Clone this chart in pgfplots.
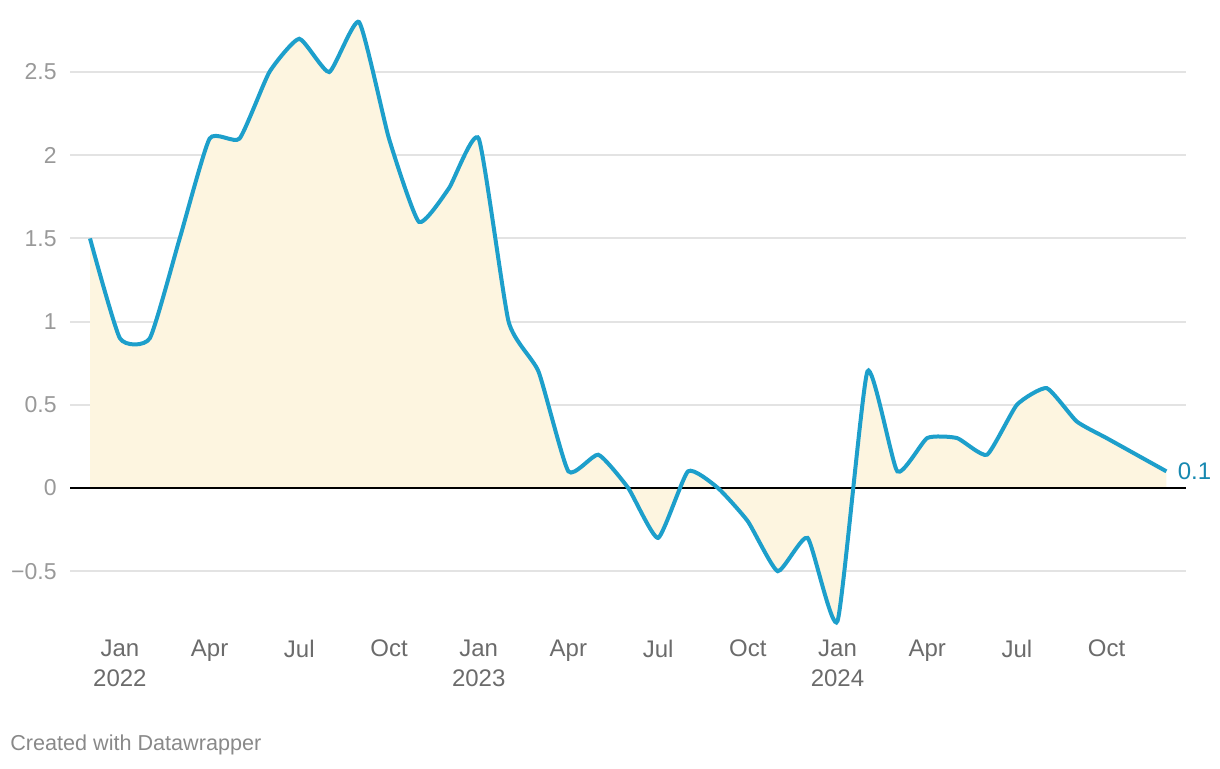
\documentclass[border=0pt]{standalone}
\usepackage{fontspec}
\setmainfont{Liberation Sans}
\usepackage{pgfplots}
\pgfplotsset{compat=1.18}
\definecolor{linec}{HTML}{1D9FCB}
\definecolor{fillc}{HTML}{FDF5E0}
\definecolor{gridc}{HTML}{E3E3E3}
\definecolor{ylab}{HTML}{999999}
\definecolor{xlab}{HTML}{6B6B6B}
\definecolor{endlab}{HTML}{1788B0}
\begin{document}
\begin{tikzpicture}
\path[use as bounding box] (0,0) rectangle (610pt,384pt);
\begin{axis}[
  at={(35pt,69.3pt)}, anchor=south west,
  scale only axis, width=558pt, height=307.8pt,
  xmin=-0.669, xmax=36.656, ymin=-0.85, ymax=2.85,
  axis line style={draw=none}, tick style={draw=none},
  ytick={-0.5,0,0.5,1,1.5,2,2.5},
  yticklabels={−0.5,0,0.5,1,1.5,2,2.5},
  ymajorgrids, grid style={gridc, line width=1pt},
  yticklabel style={anchor=east, inner sep=0pt, xshift=-6.5pt, font=\fontsize{11.5}{13}\selectfont, text=ylab},
  xtick={1,4,7,10,13,16,19,22,25,28,31,34},
  xticklabels={{Jan\\2022},Apr,Jul,Oct,{Jan\\2023},Apr,Jul,Oct,{Jan\\2024},Apr,Jul,Oct},
  xticklabel style={align=center, anchor=north, inner sep=0pt, yshift=-5pt, font=\fontsize{12}{15}\selectfont, text=xlab},
  clip=false,
]
\addplot[fill=fillc, draw=none, smooth, tension=0.3] coordinates {
(0,1.5)(1,0.9)(2,0.9)(3,1.5)(4,2.1)(5,2.1)(6,2.5)(7,2.7)(8,2.5)(9,2.8)
(10,2.1)(11,1.6)(12,1.8)(13,2.1)(14,1.0)(15,0.7)(16,0.1)(17,0.2)(18,0.0)
(19,-0.3)(20,0.1)(21,0.0)(22,-0.2)(23,-0.5)(24,-0.3)(25,-0.8)(26,0.7)
(27,0.1)(28,0.3)(29,0.3)(30,0.2)(31,0.5)(32,0.6)(33,0.4)(34,0.3)(35,0.2)(36,0.1)} \closedcycle;
\addplot[black, line width=1pt] coordinates {(-0.669,0)(36.656,0)};
\addplot[linec, line width=2pt, smooth, tension=0.3] coordinates {
(0,1.5)(1,0.9)(2,0.9)(3,1.5)(4,2.1)(5,2.1)(6,2.5)(7,2.7)(8,2.5)(9,2.8)
(10,2.1)(11,1.6)(12,1.8)(13,2.1)(14,1.0)(15,0.7)(16,0.1)(17,0.2)(18,0.0)
(19,-0.3)(20,0.1)(21,0.0)(22,-0.2)(23,-0.5)(24,-0.3)(25,-0.8)(26,0.7)
(27,0.1)(28,0.3)(29,0.3)(30,0.2)(31,0.5)(32,0.6)(33,0.4)(34,0.3)(35,0.2)(36,0.1)};
\node[anchor=west, inner sep=0pt, xshift=5.5pt, text=endlab, font=\fontsize{12}{13}\selectfont] at (axis cs:36,0.1) {0.1};
\end{axis}
\node[anchor=west, inner sep=0pt, text=xlab!80, font=\fontsize{10.8}{12}\selectfont] at (5pt,11.5pt) {Created with Datawrapper};
\end{tikzpicture}
\end{document}
